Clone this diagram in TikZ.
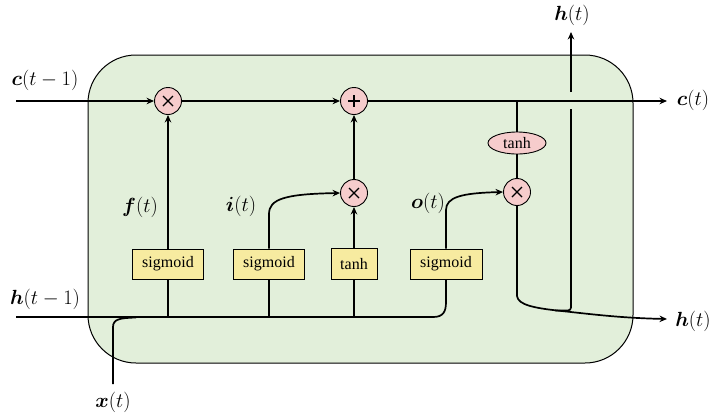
\RequirePackage{fix-cm}
\documentclass[tikz,border=0pt]{standalone}
\usepackage{bm}
\usepackage{fontspec}
\newfontfamily\boxfont{Liberation Serif}
\usetikzlibrary{arrows.meta,shapes.geometric}
\definecolor{cellgreen}{HTML}{E2EFDA}
\definecolor{opink}{HTML}{F6CCCC}
\definecolor{gateyellow}{HTML}{F7EBA0}
\tikzset{
  wire/.style={line width=1.7pt, black},
  arr/.style={wire, -{Stealth[length=7.5pt,width=6.5pt]}},
  opcircle/.style={circle, draw, line width=0.9pt, fill=opink, minimum size=27pt, inner sep=0pt},
  mulnode/.style={opcircle, path picture={
    \draw[line width=1.1pt]
      ([shift={(-5pt,-5pt)}]path picture bounding box.center) -- ([shift={(5pt,5pt)}]path picture bounding box.center)
      ([shift={(-5pt,5pt)}]path picture bounding box.center) -- ([shift={(5pt,-5pt)}]path picture bounding box.center);}},
  addnode/.style={opcircle, path picture={
    \draw[line width=1.1pt]
      ([shift={(-6pt,0pt)}]path picture bounding box.center) -- ([shift={(6pt,0pt)}]path picture bounding box.center)
      ([shift={(0pt,6pt)}]path picture bounding box.center) -- ([shift={(0pt,-6pt)}]path picture bounding box.center);}},
  gatebox/.style={draw, line width=0.9pt, fill=gateyellow, minimum height=30pt, inner sep=0pt, font=\boxfont\fontsize{16}{16}\selectfont},
  actell/.style={ellipse, draw, line width=0.9pt, fill=opink, minimum width=58pt, minimum height=22pt, inner sep=0pt, font=\boxfont\fontsize{16}{16}\selectfont},
  lbl/.style={inner sep=0pt, font=\fontsize{20.5}{22}\selectfont},
}
\begin{document}
\begin{tikzpicture}[x=1pt,y=-1pt]
\useasboundingbox (0,0) rectangle (718,416);
% cell body
\node[draw, line width=1pt, fill=cellgreen, rounded corners=48pt, minimum width=545pt, minimum height=308pt, inner sep=0pt] (cell) at (360.5,209) {};

% operators
\node[mulnode] (m1) at (168,101) {};
\node[addnode] (p1) at (354,101) {};
\node[mulnode] (m2) at (354,193) {};
\node[mulnode] (m3) at (517,192) {};
\node[actell] (tc) at (517,143) {tanh};

% gates
\node[gatebox, minimum width=71pt] (sf) at (168,264) {sigmoid};
\node[gatebox, minimum width=71pt] (si) at (269,264) {sigmoid};
\node[gatebox, minimum width=46pt, minimum height=31pt] (tg) at (354,264) {tanh};
\node[gatebox, minimum width=72pt] (so) at (446,264) {sigmoid};

% coordinates
\coordinate (cin) at (16,101);
\coordinate (cout) at (667,101);
\coordinate (hin) at (16,317);
\coordinate (hout) at (667,319);
\coordinate (htop) at (571,32);
\coordinate (xin) at (113,384);
\coordinate (cb) at (517,101);

% labels
\node[lbl] (lcin) at (45,80) {$\bm{c}(t-1)$};
\node[lbl] (lhin) at (45,299) {$\bm{h}(t-1)$};
\node[lbl] (lf) at (140,207) {$\bm{f}(t)$};
\node[lbl] (li) at (241,206) {$\bm{i}(t)$};
\node[lbl] (lo) at (428,203) {$\bm{o}(t)$};
\node[lbl] (lht) at (572,15) {$\bm{h}(t)$};
\node[lbl] (lct) at (693,100) {$\bm{c}(t)$};
\node[lbl] (lhr) at (693,321) {$\bm{h}(t)$};
\node[lbl] (lx) at (113,402) {$\bm{x}(t)$};

% cell state line
\draw[arr] (cin) -- (m1);
\draw[arr] (m1) -- (p1);
\draw[arr] (p1) -- (cout);
\draw[wire] (cb) -- (tc);
\draw[wire] (tc) -- (m3);

% gate outputs
\draw[arr] (sf) -- (m1);
\draw[arr] (m2) -- (p1);
\draw[arr] (tg) -- (m2);
\draw[arr] (si.north) -- (269,214) .. controls (269,199) and (285,194) .. (m2.west);
\draw[arr] (so.north) -- (446,210) .. controls (446,197) and (462,193) .. (m3.west);

% output hidden state
\draw[arr] (m3) -- (517,296) .. controls (518,305) and (535,308) .. (557,310.5) .. controls (590,314) and (620,318) .. (hout);
\draw[wire, rounded corners=3pt] (555,310.5) -- (571,310.5) -- (571,109);
\draw[arr] (571,92) -- (htop);

% input lines
\draw[wire] (hin) -- (433,317) .. controls (443,317) and (446,312) .. (446,302) -- (so.south);
\draw[wire] (168,317) -- (sf.south);
\draw[wire] (269,317) -- (si.south);
\draw[wire] (354,317) -- (tg.south);
\draw[wire] (xin) -- (113,327) .. controls (113,319) and (120,318) .. (136,317.5);
\end{tikzpicture}
\end{document}
